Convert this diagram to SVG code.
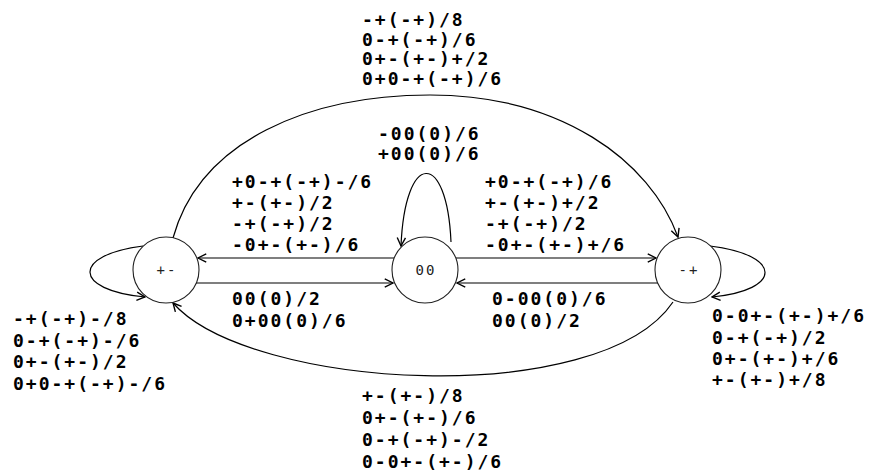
<svg xmlns="http://www.w3.org/2000/svg" width="875" height="471" viewBox="0 0 875 471">
<defs>
<marker id="arr" viewBox="0 0 12 12" refX="11" refY="6" markerWidth="11" markerHeight="11" markerUnits="userSpaceOnUse" orient="auto">
<path d="M2,1.5 L11,6 L2,10.5" fill="none" stroke="#000" stroke-width="1.5"/>
</marker>
<style>
.lbl{font-family:"DejaVu Sans Mono","Liberation Mono",monospace;font-weight:bold;font-size:18px;letter-spacing:2px;fill:#000}
.nd{fill:#fff;stroke:#222;stroke-width:1.1}
.nt{font-family:"DejaVu Sans Mono","Liberation Mono",monospace;font-size:14px;letter-spacing:2px;fill:#222;text-anchor:middle}
.e{fill:none;stroke:#000;stroke-width:1.2;marker-end:url(#arr)}
</style>
</defs>
<rect width="875" height="471" fill="#fff"/>
<g id="connectors">
<path class="e" d="M394,258 L198,258"/>
<path class="e" d="M456,258 L656,258"/>
<path class="e" d="M196,283 L393,283"/>
<path class="e" d="M658,283 L457,283"/>
<path class="e" d="M451,242 C447,150 405,150 401,246"/>
<path class="e" d="M143,246 C72,255 72,290 145,297"/>
<path class="e" d="M710,246 C783,255 783,290 712,297"/>
<path class="e" d="M173,238 C200,140 310,95 430,95 C560,95 650,160 678,237"/>
<path class="e" d="M673,302 C600,410 250,390 173,303"/>
</g>
<g id="node-pm">
<circle class="nd" cx="166" cy="270" r="33"/>
<text class="nt" x="167" y="275">+-</text>
</g>
<g id="node-00">
<circle class="nd" cx="425" cy="270" r="33"/>
<text class="nt" x="426" y="275">00</text>
</g>
<g id="node-mp">
<circle class="nd" cx="688" cy="270" r="33"/>
<text class="nt" x="689" y="275">-+</text>
</g>
<g id="labels">
<text class="lbl" x="362" y="26">-+(-+)/8</text>
<text class="lbl" x="362" y="45.5">0-+(-+)/6</text>
<text class="lbl" x="362" y="65">0+-(+-)+/2</text>
<text class="lbl" x="362" y="84.5">0+0-+(-+)/6</text>

<text class="lbl" x="378" y="140">-00(0)/6</text>
<text class="lbl" x="378" y="160">+00(0)/6</text>

<text class="lbl" x="232" y="188">+0-+(-+)-/6</text>
<text class="lbl" x="232" y="209">+-(+-)/2</text>
<text class="lbl" x="232" y="230">-+(-+)/2</text>
<text class="lbl" x="232" y="251">-0+-(+-)/6</text>

<text class="lbl" x="485" y="188">+0-+(-+)/6</text>
<text class="lbl" x="485" y="209">+-(+-)+/2</text>
<text class="lbl" x="485" y="230">-+(-+)/2</text>
<text class="lbl" x="485" y="251">-0+-(+-)+/6</text>

<text class="lbl" x="232" y="305">00(0)/2</text>
<text class="lbl" x="232" y="327">0+00(0)/6</text>

<text class="lbl" x="492" y="305">0-00(0)/6</text>
<text class="lbl" x="492" y="327">00(0)/2</text>

<text class="lbl" x="13" y="325">-+(-+)-/8</text>
<text class="lbl" x="13" y="347">0-+(-+)-/6</text>
<text class="lbl" x="13" y="368">0+-(+-)/2</text>
<text class="lbl" x="13" y="390">0+0-+(-+)-/6</text>

<text class="lbl" x="712" y="322">0-0+-(+-)+/6</text>
<text class="lbl" x="712" y="344">0-+(-+)/2</text>
<text class="lbl" x="712" y="365">0+-(+-)+/6</text>
<text class="lbl" x="712" y="386">+-(+-)+/8</text>

<text class="lbl" x="362" y="402">+-(+-)/8</text>
<text class="lbl" x="362" y="424">0+-(+-)/6</text>
<text class="lbl" x="362" y="446">0-+(-+)-/2</text>
<text class="lbl" x="362" y="468">0-0+-(+-)/6</text>
</g>
</svg>
